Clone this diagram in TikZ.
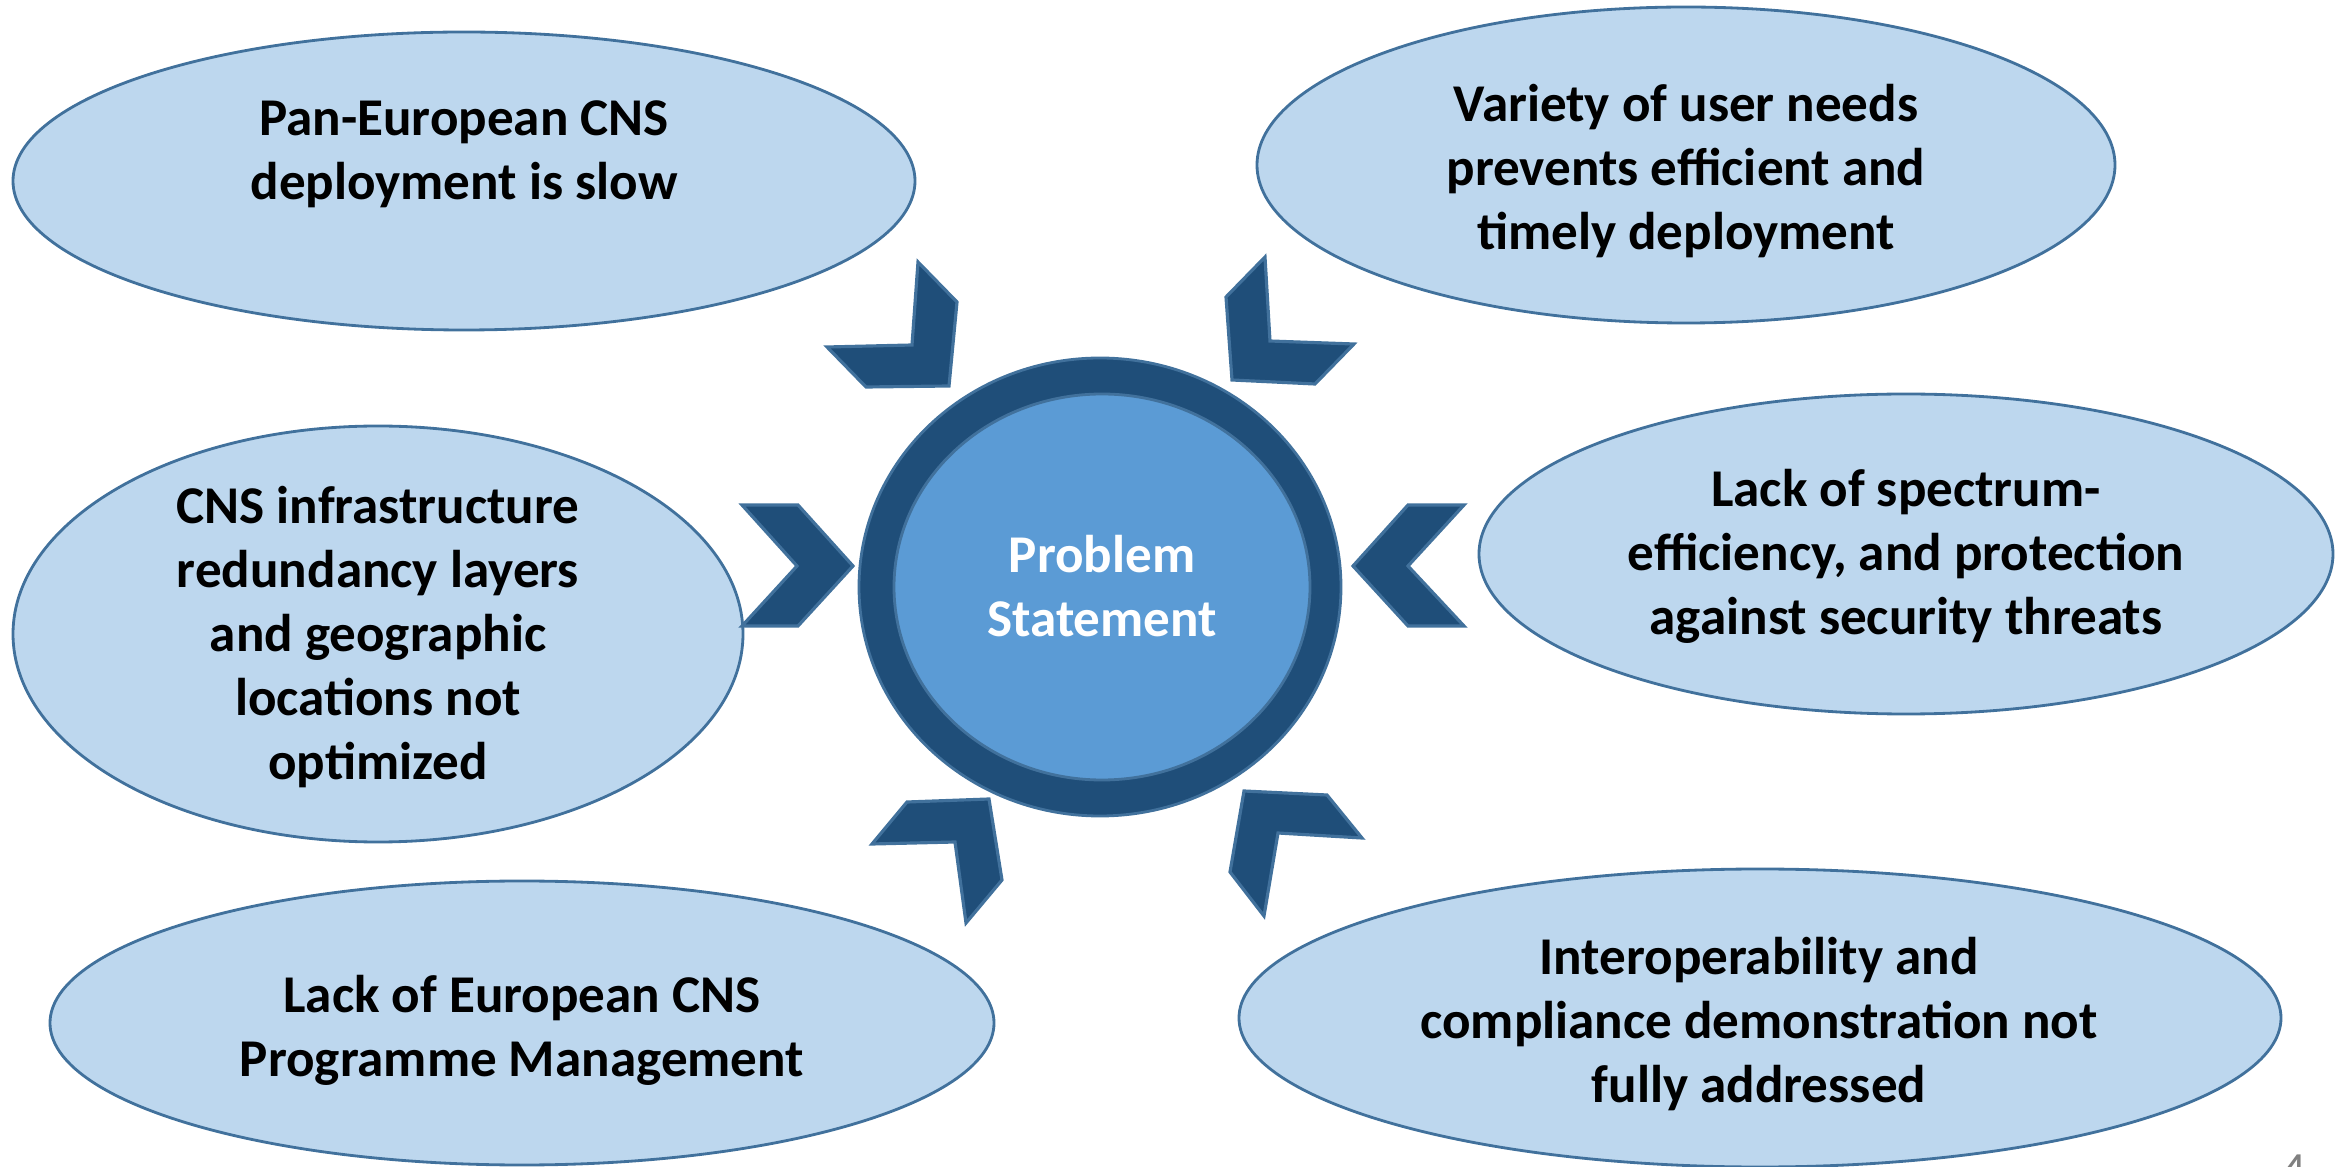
\documentclass[tikz,border=0pt]{standalone}
\usepackage{fontspec}
\setmainfont{Carlito}

\definecolor{bubblefill}{HTML}{BDD7EE}
\definecolor{bubbleline}{HTML}{41719C}
\definecolor{darkblue}{HTML}{1F4E79}
\definecolor{midblue}{HTML}{5B9BD5}

\tikzset{
    bubble/.style={fill=bubblefill, draw=bubbleline, line width=0.8pt},
    chevron/.style={fill=darkblue, draw=bubbleline, line width=0.9pt},
    txt/.style={font=\bfseries\fontsize{15.1}{18.2}\selectfont, align=center, inner sep=0pt}
}

\begin{document}
\begin{tikzpicture}[x=0.01cm, y=-0.01cm]
    \useasboundingbox (0,0) rectangle (2341,1167);

    % Outer bubbles (ellipses)
    \path[bubble] (464,181) ellipse [x radius=451, y radius=149];
    \path[bubble] (1686,165) ellipse [x radius=429, y radius=158];
    \path[bubble] (378,634) ellipse [x radius=365, y radius=208];
    \path[bubble] (1906,554) ellipse [x radius=427, y radius=160];
    \path[bubble] (522,1023) ellipse [x radius=472, y radius=142];
    \path[bubble] (1760,1018) ellipse [x radius=521, y radius=149];

    % Central ring
    \path[fill=darkblue, draw=bubbleline, line width=0.8pt] (1100,587) ellipse [x radius=241, y radius=229];
    \path[fill=midblue, draw=bubbleline, line width=0.8pt] (1102,587) ellipse [x radius=208, y radius=193];

    % Chevrons pointing inward
    \draw[chevron] (918,262) -- (957,302) -- (949,386) -- (866,387) -- (827,347) -- (912,345) -- cycle;
    \draw[chevron] (1265,257) -- (1270,341) -- (1354,344) -- (1315,384) -- (1232,380) -- (1226,297) -- cycle;
    \draw[chevron] (742,505) -- (798,505) -- (853,566) -- (798,626) -- (742,626) -- (797,566) -- cycle;
    \draw[chevron] (1408,505) -- (1464,505) -- (1408,566) -- (1464,626) -- (1408,626) -- (1353,566) -- cycle;
    \draw[chevron] (907,802) -- (989,799) -- (1002,880) -- (966,923) -- (955,842) -- (872,844) -- cycle;
    \draw[chevron] (1244,791) -- (1327,795) -- (1362,838) -- (1278,833) -- (1264,916) -- (1230,872) -- cycle;

    % Labels
    \node[txt] (slow) at (464,154) {Pan-European CNS\\deployment is slow};
    \node[txt] (needs) at (1686,171) {Variety of user needs\\prevents efficient and\\timely deployment};
    \node[txt] (layers) at (378,637) {CNS infrastructure\\redundancy layers\\and geographic\\locations not\\optimized};
    \node[txt] (spectrum) at (1906,556) {Lack of spectrum-\\efficiency, and protection\\against security threats};
    \node[txt] (mgmt) at (522,1030) {Lack of European CNS\\Programme Management};
    \node[txt] (interop) at (1759,1024) {Interoperability and\\compliance demonstration not\\fully addressed};
    \node[txt, text=white] (problem) at (1102,586) {Problem\\Statement};

    % Page number
    \node[anchor=base west, text=gray, font=\fontsize{14}{16}\selectfont, inner sep=0pt] (page) at (2281,1186) {4};
\end{tikzpicture}
\end{document}
